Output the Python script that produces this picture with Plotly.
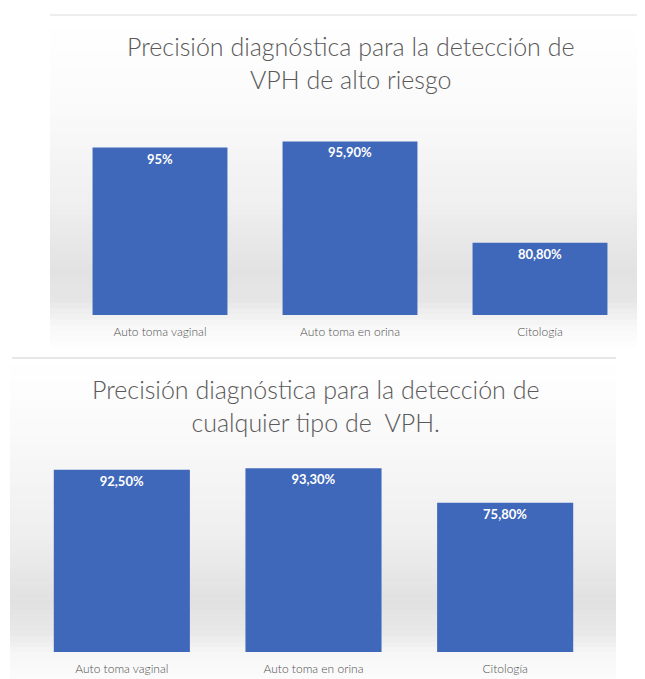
import plotly.graph_objects as go

# ---- data ----
categories = ["Auto toma vaginal", "Auto toma en orina", "Citología"]
alto_riesgo_values = [95.0, 95.9, 80.8]
alto_riesgo_labels = ["95%", "95,90%", "80,80%"]
cualquier_values = [92.5, 93.3, 75.8]
cualquier_labels = ["92,50%", "93,30%", "75,80%"]
title_top = "Precisión diagnóstica para la detección de<br>VPH de alto riesgo"
title_bottom = "Precisión diagnóstica para la detección de<br>cualquier tipo de  VPH."

OFF = 8  # page body margin
W, H = 645 - OFF, 679 - OFF
FONT = "Lato"
BAR_COLOR = "#3F68BA"
TEXT_GREY = "#595959"


def px(x):
    return (x - OFF) / W


def py(y):
    return 1 - (y - OFF) / H


def gradient_shapes(x0, x1, stops, n=60):
    """Horizontal bands approximating a vertical gray gradient."""
    shapes = []
    y_start, y_end = stops[0][0], stops[-1][0]
    step = (y_end - y_start) / n
    for i in range(n):
        ya = y_start + i * step
        yb = ya + step
        ym = (ya + yb) / 2
        for (s0, g0), (s1, g1) in zip(stops[:-1], stops[1:]):
            if s0 <= ym <= s1:
                t = (ym - s0) / (s1 - s0)
                g = round(g0 + (g1 - g0) * t)
                break
        shapes.append(dict(type="rect", xref="paper", yref="paper",
                           x0=px(x0), x1=px(x1), y0=py(yb + 0.5), y1=py(ya),
                           fillcolor=f"rgb({g},{g},{g})", line=dict(width=0),
                           layer="below"))
    return shapes


bar_common = dict(marker=dict(color=BAR_COLOR, line=dict(width=0)),
                  width=0.71, textposition="inside", insidetextanchor="end",
                  textangle=0, constraintext="none",
                  textfont=dict(family=FONT, size=13, color="white", weight="bold"),
                  hoverinfo="skip")

fig = go.Figure()
fig.add_trace(go.Bar(x=categories, y=alto_riesgo_values, text=alto_riesgo_labels,
                     xaxis="x", yaxis="y", **bar_common))
fig.add_trace(go.Bar(x=categories, y=cualquier_values, text=cualquier_labels,
                     xaxis="x2", yaxis="y2", **bar_common))

shapes = []
shapes += gradient_shapes(50, 645, [(17, 255), (100, 251), (200, 240), (270, 226),
                                    (300, 230), (325, 247), (347, 254)])
shapes += gradient_shapes(10, 616, [(360, 255), (440, 249), (540, 238), (600, 225),
                                    (630, 231), (655, 247), (679, 252)])
shapes.append(dict(type="line", xref="paper", yref="paper", x0=px(50), x1=px(645),
                   y0=py(15), y1=py(15), line=dict(color="#dcdcdc", width=1)))
shapes.append(dict(type="line", xref="paper", yref="paper", x0=px(12), x1=px(616),
                   y0=py(358), y1=py(358), line=dict(color="#cfcfcf", width=1)))

axis_common = dict(showgrid=False, zeroline=False, showline=False, ticks="",
                   ticklabelstandoff=8,
                   tickfont=dict(family=FONT, size=12, color="#505050", weight=300),
                   fixedrange=True)

fig.update_layout(
    width=W, height=H, autosize=False,
    margin=dict(l=0, r=0, t=0, b=0),
    paper_bgcolor="white", plot_bgcolor="rgba(0,0,0,0)",
    showlegend=False,
    shapes=shapes,
    xaxis=dict(domain=[px(65), px(635)], anchor="y", **axis_common),
    yaxis=dict(domain=[py(315), py(114)], range=[70, 100], anchor="x",
               showticklabels=False, showgrid=False, zeroline=False, fixedrange=True),
    xaxis2=dict(domain=[px(26), px(601)], anchor="y2", **axis_common),
    yaxis2=dict(domain=[py(652), py(455)], range=[0, 100], anchor="x2",
                showticklabels=False, showgrid=False, zeroline=False, fixedrange=True),
    annotations=[
        dict(text=title_top, xref="paper", yref="paper", x=px(350), y=py(62),
             xanchor="center", yanchor="middle", showarrow=False,
             font=dict(family=FONT, size=25, color=TEXT_GREY, weight=300), align="center"),
        dict(text=title_bottom, xref="paper", yref="paper", x=px(315), y=py(405),
             xanchor="center", yanchor="middle", showarrow=False,
             font=dict(family=FONT, size=25, color=TEXT_GREY, weight=300), align="center"),
    ],
)

fig.write_html("out.html")
